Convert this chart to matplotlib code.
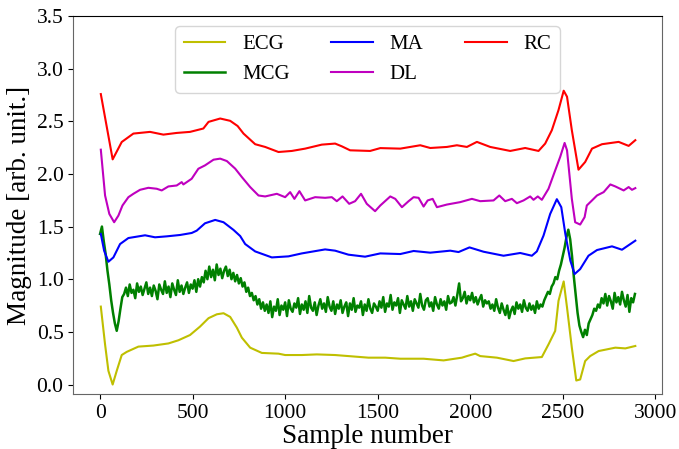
import numpy as np
import matplotlib
matplotlib.use("Agg")
import matplotlib.pyplot as plt

plt.rcParams["font.family"] = ["Liberation Serif", "DejaVu Serif"]

# smooth traces as (sample, value) pairs
ecg_x = [4, 27, 45, 68, 90, 117, 144, 207, 288, 369, 423, 486, 540, 586, 631, 667, 703, 739, 766,
         811, 874, 964, 1000, 1090, 1171, 1270, 1342, 1450, 1541, 1622, 1748, 1856, 1955, 1982, 2027,
         2054, 2144, 2234, 2297, 2387, 2423, 2459, 2477, 2505, 2523, 2549, 2573, 2594, 2621, 2648,
         2694, 2784, 2838, 2892]
ecg_y = [0.74, 0.38, 0.13, 0.0, 0.13, 0.28, 0.31, 0.36, 0.37, 0.39, 0.42, 0.47, 0.55, 0.63, 0.667, 0.677,
         0.642, 0.54, 0.445, 0.35, 0.30, 0.293, 0.28, 0.28, 0.286, 0.28, 0.27, 0.255, 0.255, 0.245, 0.245,
         0.229, 0.255, 0.27, 0.293, 0.27, 0.255, 0.223, 0.248, 0.261, 0.381, 0.509, 0.795, 0.979, 0.731,
         0.35, 0.038, 0.048, 0.223, 0.27, 0.318, 0.35, 0.343, 0.366]

ma_x = [4, 22, 45, 72, 108, 153, 198, 243, 297, 360, 432, 495, 522, 567, 622, 667, 721, 757, 784,
        838, 928, 1018, 1090, 1216, 1270, 1342, 1432, 1514, 1622, 1694, 1784, 1892, 1937, 1996, 2072,
        2180, 2270, 2333, 2360, 2396, 2432, 2468, 2492, 2514, 2541, 2564, 2594, 2639, 2685, 2766, 2820, 2892]
ma_y = [1.43, 1.27, 1.166, 1.207, 1.334, 1.391, 1.404, 1.417, 1.398, 1.407, 1.42, 1.439, 1.461, 1.531,
        1.563, 1.541, 1.468, 1.41, 1.334, 1.264, 1.207, 1.217, 1.245, 1.283, 1.271, 1.233, 1.214, 1.245,
        1.239, 1.268, 1.252, 1.271, 1.258, 1.302, 1.261, 1.223, 1.249, 1.223, 1.264, 1.414, 1.62, 1.76,
        1.684, 1.429, 1.176, 1.049, 1.096, 1.223, 1.277, 1.312, 1.28, 1.366]

dl_x = [4, 27, 50, 76, 99, 121, 153, 180, 216, 261, 306, 333, 369, 414, 441, 450, 495, 531, 567, 613,
        649, 685, 730, 766, 811, 856, 892, 955, 1000, 1027, 1050, 1077, 1108, 1162, 1216, 1252, 1279,
        1310, 1346, 1378, 1410, 1441, 1486, 1514, 1568, 1595, 1631, 1667, 1694, 1721, 1748, 1770, 1797,
        1820, 1874, 1946, 2009, 2054, 2126, 2157, 2189, 2225, 2252, 2288, 2324, 2342, 2365, 2387, 2423,
        2459, 2486, 2510, 2523, 2549, 2567, 2594, 2618, 2630, 2658, 2685, 2721, 2757, 2784, 2829, 2856,
        2874, 2892]
dl_y = [2.23, 1.795, 1.62, 1.541, 1.604, 1.70, 1.779, 1.811, 1.849, 1.868, 1.859, 1.843, 1.881, 1.89,
        1.922, 1.90, 1.954, 2.049, 2.081, 2.135, 2.145, 2.122, 2.05, 1.97, 1.875, 1.795, 1.786, 1.811,
        1.779, 1.827, 1.763, 1.836, 1.748, 1.779, 1.773, 1.779, 1.741, 1.786, 1.716, 1.741, 1.811, 1.716,
        1.646, 1.70, 1.786, 1.763, 1.684, 1.741, 1.779, 1.773, 1.69, 1.748, 1.763, 1.684, 1.709, 1.732,
        1.763, 1.741, 1.748, 1.795, 1.741, 1.763, 1.722, 1.748, 1.786, 1.754, 1.786, 1.754, 1.859, 2.033,
        2.161, 2.294, 2.224, 1.763, 1.541, 1.519, 1.589, 1.70, 1.748, 1.795, 1.827, 1.90, 1.881, 1.843,
        1.875, 1.849, 1.865]

rc_x = [4, 68, 117, 180, 270, 342, 414, 486, 558, 586, 649, 703, 743, 775, 838, 892, 964, 1036, 1108,
        1198, 1270, 1306, 1351, 1459, 1514, 1622, 1730, 1784, 1874, 1928, 1982, 2036, 2108, 2216, 2297,
        2369, 2405, 2441, 2477, 2505, 2523, 2549, 2585, 2621, 2658, 2712, 2802, 2856, 2892]
rc_y = [2.758, 2.138, 2.303, 2.383, 2.399, 2.373, 2.389, 2.399, 2.431, 2.494, 2.526, 2.504, 2.455, 2.383,
        2.282, 2.256, 2.208, 2.218, 2.24, 2.278, 2.288, 2.262, 2.224, 2.218, 2.245, 2.24, 2.272, 2.246,
        2.256, 2.272, 2.256, 2.304, 2.256, 2.218, 2.246, 2.218, 2.288, 2.415, 2.606, 2.79, 2.733, 2.415,
        2.04, 2.113, 2.24, 2.282, 2.304, 2.266, 2.32]

# MCG is noisy: one reading every 10 samples, 0..2890
mcg_y = [1.43, 1.50, 1.36, 1.24, 1.08, 0.95, 0.80, 0.68, 0.58, 0.51, 0.60, 0.72, 0.83, 0.86,
         0.92, 0.84, 0.95, 0.87, 0.90, 0.82, 0.96, 0.88, 0.93, 0.85, 0.91, 0.97, 0.86, 0.92, 0.84, 0.94,
         0.89, 0.81, 0.95, 0.90, 0.86, 0.98, 0.87, 0.93, 0.83, 0.96, 0.90, 0.85, 0.99, 0.88, 0.94, 0.86,
         0.92, 0.97, 0.87, 0.95,
         0.91, 0.99, 0.88, 1.00, 0.93, 1.02,
         0.97, 1.08, 1.00, 1.12, 1.02, 1.09, 0.99, 1.14, 1.04, 1.10, 1.01, 1.08, 1.12, 1.03, 1.09, 1.00,
         1.06, 0.98, 1.04, 0.96,
         1.01, 0.93, 0.97, 0.88, 0.92, 0.84, 0.87, 0.80, 0.84, 0.76, 0.81, 0.72, 0.78, 0.70,
         0.76, 0.68, 0.79, 0.64, 0.74, 0.70, 0.81, 0.66, 0.75, 0.71, 0.78, 0.65, 0.80, 0.72, 0.69, 0.77,
         0.73, 0.82, 0.67, 0.76, 0.71, 0.79, 0.68, 0.84, 0.73, 0.70, 0.78, 0.66, 0.75, 0.81, 0.72, 0.77,
         0.69, 0.83, 0.74, 0.70, 0.79, 0.67, 0.76, 0.72, 0.80, 0.68, 0.74, 0.78, 0.65, 0.77, 0.71, 0.82,
         0.69, 0.75, 0.73, 0.79, 0.66, 0.76, 0.70, 0.81, 0.72, 0.68, 0.77, 0.74,
         0.70, 0.79, 0.73, 0.83, 0.69, 0.77, 0.74, 0.85, 0.71, 0.78, 0.75, 0.82, 0.68, 0.80, 0.76, 0.72,
         0.84, 0.74, 0.79, 0.70, 0.81, 0.77, 0.73, 0.86, 0.75, 0.71, 0.80, 0.82, 0.74, 0.78, 0.70, 0.83,
         0.76, 0.72, 0.81, 0.75, 0.79, 0.71, 0.84, 0.77,
         0.78, 0.83, 0.75, 0.85, 0.96, 0.79, 0.82, 0.88, 0.77, 0.84, 0.80, 0.87, 0.78, 0.83, 0.76, 0.81,
         0.85, 0.74, 0.80, 0.77,
         0.79, 0.72, 0.76, 0.70, 0.81, 0.73, 0.68, 0.77, 0.71, 0.66, 0.75, 0.63, 0.70, 0.74, 0.67, 0.78,
         0.72, 0.76, 0.69, 0.80, 0.73, 0.70, 0.77, 0.71, 0.75, 0.68, 0.79, 0.72, 0.76, 0.74,
         0.80, 0.84, 0.88, 0.86, 0.93, 0.96, 1.02, 1.00, 1.08, 1.14, 1.22, 1.30, 1.40, 1.47, 1.38, 1.22,
         1.02, 0.85, 0.68, 0.56, 0.50, 0.45, 0.52, 0.47, 0.58, 0.62, 0.66, 0.72, 0.70, 0.76,
         0.73, 0.82, 0.77, 0.86, 0.75, 0.84, 0.79, 0.72, 0.87, 0.78, 0.83, 0.76, 0.88, 0.80, 0.74, 0.85,
         0.69, 0.82, 0.78, 0.86]
mcg_x = np.arange(len(mcg_y)) * 10

fig = plt.figure(figsize=(6.79, 4.49), dpi=100)
ax = fig.add_axes([0.108, 0.1225, 0.8665, 0.842])

ax.plot(ecg_x, ecg_y, color="y", lw=1.5, label="ECG")
ax.plot(mcg_x, mcg_y, color="g", lw=1.8, label="MCG")
ax.plot(ma_x, ma_y, color="b", lw=1.5, label="MA")
ax.plot(dl_x, dl_y, color="m", lw=1.5, label="DL")
ax.plot(rc_x, rc_y, color="r", lw=1.5, label="RC")

ax.set_xlim(-144.5, 3034.5)
ax.set_ylim(-0.09, 3.5)
ax.set_xticks([0, 500, 1000, 1500, 2000, 2500, 3000])
ax.set_yticks(np.arange(0, 3.6, 0.5))
ax.tick_params(labelsize=15.5)
ax.set_xlabel("Sample number", fontsize=19.5, labelpad=1)
ax.set_ylabel("Magnitude [arb. unit.]", fontsize=19.5, labelpad=3)

for side in ["left", "bottom", "right"]:
    ax.spines[side].set_color("#666666")

ax.legend(loc="upper center", ncol=3, fontsize=15)

fig.savefig("out.png", dpi=100)
